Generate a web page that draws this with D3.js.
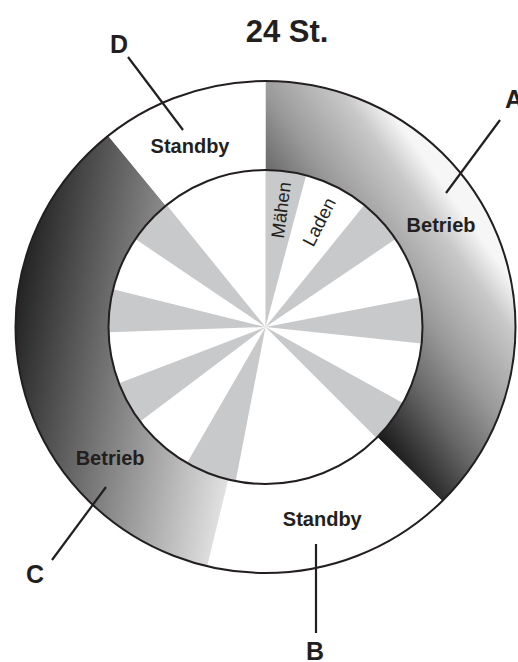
<!DOCTYPE html>
<html>
<head>
<meta charset="utf-8">
<script src="https://cdn.jsdelivr.net/npm/d3@7/dist/d3.min.js"></script>
<style>
body { margin: 0; background: #fff; }
svg text { font-family: "Liberation Sans", Arial, Helvetica, sans-serif; fill: #231f20; }
</style>
</head>
<body>
<svg id="chart" width="518" height="662"></svg>
<script>
// Phases over 24 hours (outer ring)
var phaseIds   = ['A', 'B', 'C', 'D'];
var phaseNames = ['Betrieb', 'Standby', 'Betrieb', 'Standby'];
var phaseStart = [0, 9, 12.9, 21.4];
var phaseEnd   = [9, 12.9, 21.4, 24];

// Mowing windows (grey wedges); charging in between
var mowStart = [0, 2.6, 5.27, 7.93, 12.73, 15.53, 17.87, 20.27];
var mowEnd   = [1, 3.73, 6.4, 9, 14, 16.6, 18.93, 21.4];

var titleText = '24 St.';

// layout
var cx = 265.5, cy = 327;
var rOuter = 250, rInner = 157;
var ink = '#231f20';

var svg = d3.select('#chart');

var angle = d3.scaleLinear().domain([0, 24]).range([0, 2 * Math.PI]);

function polar(h, r) {
    var a = angle(h);
    return [Math.sin(a) * r, -Math.cos(a) * r];
}

// gradients (user space, relative to ring centre)
var defs = svg.append('defs');
var gA = defs.append('linearGradient')
    .attr('id', 'gradA')
    .attr('gradientUnits', 'userSpaceOnUse')
    .attr('x1', 135).attr('y1', 143)
    .attr('x2', 299).attr('y2', 28);
[[0, '#1a1a1a'], [0.3, '#666666'], [0.55, '#9a9a9a'], [0.85, '#c8c8c8'], [1, '#f6f6f6']]
    .forEach(function(s) {
        gA.append('stop').attr('offset', s[0]).attr('stop-color', s[1]);
    });

var gC = defs.append('linearGradient')
    .attr('id', 'gradC')
    .attr('gradientUnits', 'userSpaceOnUse')
    .attr('x1', -265.5).attr('y1', 26)
    .attr('x2', -19).attr('y2', 68.5);
gC.append('stop').attr('offset', 0).attr('stop-color', '#1e1e1e');
gC.append('stop').attr('offset', 1).attr('stop-color', '#e4e4e4');

var phaseFill = ['url(#gradA)', '#fff', 'url(#gradC)', '#fff'];

var phases = phaseIds.map(function(id, i) {
    return {id: id, name: phaseNames[i], start: phaseStart[i], end: phaseEnd[i], fill: phaseFill[i]};
});

// Outer ring (slightly flattened vertically)
var ringG = svg.append('g')
    .attr('transform', 'translate(' + [cx, cy] + ') scale(1,0.984)');

var ringArc = d3.arc()
    .innerRadius(rInner - 10)
    .outerRadius(rOuter)
    .startAngle(function(d) { return angle(d.start); })
    .endAngle(function(d) { return angle(d.end); });

ringG.selectAll('path.phase')
    .data(phases)
    .enter()
    .append('path')
    .attr('class', 'phase')
    .attr('d', ringArc)
    .style('fill', function(d) { return d.fill; });

ringG.append('circle')
    .attr('r', rOuter)
    .style('fill', 'none')
    .style('stroke', ink)
    .style('stroke-width', 2);

// Inner disc with mowing/charging wedges
var discG = svg.append('g')
    .attr('transform', 'translate(' + [cx, cy] + ')');

discG.append('circle')
    .attr('r', rInner)
    .style('fill', '#fff');

var mows = mowStart.map(function(s, i) { return {start: s, end: mowEnd[i]}; });

var wedgeArc = d3.arc()
    .innerRadius(0)
    .outerRadius(rInner)
    .startAngle(function(d) { return angle(d.start); })
    .endAngle(function(d) { return angle(d.end); });

discG.selectAll('path.mow')
    .data(mows)
    .enter()
    .append('path')
    .attr('class', 'mow')
    .attr('d', wedgeArc)
    .style('fill', '#c8c9cb');

discG.append('circle')
    .attr('r', rInner)
    .style('fill', 'none')
    .style('stroke', ink)
    .style('stroke-width', 2);

// wedge labels: first mowing window and first charging gap
var wedgeLabels = [
    {text: 'Mähen', h: (mowStart[0] + mowEnd[0]) / 2},
    {text: 'Laden', h: (mowEnd[0] + mowStart[1]) / 2}
];
discG.selectAll('text.wedge')
    .data(wedgeLabels)
    .enter()
    .append('text')
    .attr('class', 'wedge')
    .attr('transform', function(d) {
        var p = polar(d.h, 118);
        return 'translate(' + p + ') rotate(' + (angle(d.h) * 180 / Math.PI - 90) + ')';
    })
    .attr('text-anchor', 'middle')
    .attr('dy', '0.35em')
    .style('font-size', '18.5px')
    .text(function(d) { return d.text; });

// phase names inside the ring
var labelHour = [3.99, 10.9, 15.33, 22.49];
var labelR = [203, 200, 203, 196];
svg.append('g')
    .attr('transform', 'translate(' + [cx, cy] + ')')
    .selectAll('text')
    .data(phases)
    .enter()
    .append('text')
    .attr('x', function(d, i) { return polar(labelHour[i], labelR[i])[0]; })
    .attr('y', function(d, i) { return polar(labelHour[i], labelR[i])[1]; })
    .attr('dy', '0.36em')
    .attr('text-anchor', 'middle')
    .style('font-size', '20px')
    .style('font-weight', 'bold')
    .text(function(d) { return d.name; });

// call-out lines and letters
var callouts = [
    {id: 'A', x1: 446, y1: 193, x2: 500, y2: 120, tx: 505, ty: 108, anchor: 'start'},
    {id: 'B', x1: 316, y1: 544, x2: 316, y2: 633, tx: 315, ty: 660, anchor: 'middle'},
    {id: 'C', x1: 106, y1: 487, x2: 52, y2: 560, tx: 35, ty: 583, anchor: 'middle'},
    {id: 'D', x1: 183, y1: 130, x2: 128, y2: 57, tx: 119, ty: 53, anchor: 'middle'}
];
var coG = svg.append('g');
coG.selectAll('line')
    .data(callouts)
    .enter()
    .append('line')
    .attr('x1', function(d) { return d.x1; })
    .attr('y1', function(d) { return d.y1; })
    .attr('x2', function(d) { return d.x2; })
    .attr('y2', function(d) { return d.y2; })
    .style('stroke', ink)
    .style('stroke-width', 2.2);
coG.selectAll('text')
    .data(callouts)
    .enter()
    .append('text')
    .attr('x', function(d) { return d.tx; })
    .attr('y', function(d) { return d.ty; })
    .attr('text-anchor', function(d) { return d.anchor; })
    .style('font-size', '25px')
    .style('font-weight', 'bold')
    .text(function(d) { return d.id; });

// title
svg.append('text')
    .attr('x', 287)
    .attr('y', 42)
    .attr('text-anchor', 'middle')
    .style('font-size', '31px')
    .style('font-weight', 'bold')
    .text(titleText);
</script>
</body>
</html>
